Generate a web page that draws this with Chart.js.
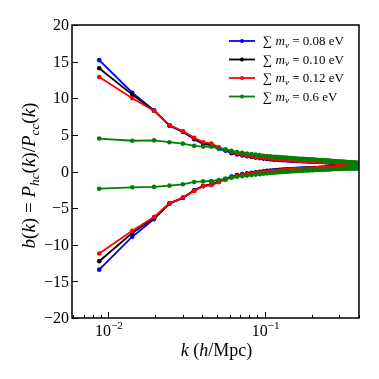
<!DOCTYPE html>
<html>
<head>
<meta charset="utf-8">
<script src="https://cdn.jsdelivr.net/npm/chart.js@4.4.1/dist/chart.umd.min.js"></script>
<style>
  html, body { margin: 0; padding: 0; background: #fff; }
  #wrap { width: 379px; height: 379px; }
</style>
</head>
<body>
<div id="wrap"><canvas id="biasChart" width="379" height="379"></canvas></div>
<script>
// k bins (h/Mpc)
const kValues = [
  0.0088, 0.0143, 0.0197, 0.0247, 0.0301, 0.0355, 0.0405, 0.0457, 0.0510, 0.0562,
  0.0615, 0.0667, 0.0720, 0.0772, 0.0825, 0.0877, 0.0930, 0.0982, 0.1035, 0.1087,
  0.1140, 0.1192, 0.1245, 0.1297, 0.1350, 0.1402, 0.1455, 0.1507, 0.1560, 0.1612,
  0.1665, 0.1717, 0.1770, 0.1822, 0.1875, 0.1927, 0.1980, 0.2032, 0.2085, 0.2137,
  0.2190, 0.2242, 0.2295, 0.2347, 0.2400, 0.2452, 0.2505, 0.2557, 0.2610, 0.2662,
  0.2715, 0.2767, 0.2820, 0.2872, 0.2925, 0.2977, 0.3030, 0.3082, 0.3135, 0.3187,
  0.3240, 0.3292, 0.3345, 0.3397, 0.3450, 0.3502, 0.3555, 0.3607, 0.3660, 0.3712,
  0.3765, 0.3817, 0.3870, 0.3922, 0.3975, 0.4027
];

// sum m_nu = 0.08 eV
const blueHi = [
  15.2, 10.75, 8.35, 6.25, 5.4, 4.4, 3.75, 3.6, 3.1, 2.85,
  2.5, 2.32, 2.2, 2.08, 1.98, 1.9, 1.83, 1.76, 1.7, 1.66,
  1.62, 1.6, 1.57, 1.55, 1.53, 1.51, 1.49, 1.48, 1.46, 1.45,
  1.43, 1.42, 1.41, 1.40, 1.39, 1.38, 1.37, 1.36, 1.35, 1.34,
  1.33, 1.32, 1.31, 1.30, 1.29, 1.28, 1.27, 1.26, 1.25, 1.24,
  1.23, 1.22, 1.21, 1.20, 1.19, 1.18, 1.17, 1.16, 1.15, 1.14,
  1.13, 1.12, 1.11, 1.10, 1.09, 1.08, 1.07, 1.06, 1.05, 1.04,
  1.03, 1.02, 1.01, 1.00, 0.99, 0.98
];
const blueLo = [
  -13.4, -8.9, -6.5, -4.4, -3.6, -2.55, -1.95, -1.75, -1.35, -1.0,
  -0.68, -0.48, -0.36, -0.26, -0.18, -0.1, -0.03, 0.03, 0.08, 0.12,
  0.16, 0.19, 0.22, 0.25, 0.27, 0.29, 0.31, 0.33, 0.35, 0.36,
  0.38, 0.39, 0.40, 0.41, 0.42, 0.43, 0.44, 0.45, 0.46, 0.47,
  0.48, 0.49, 0.50, 0.51, 0.51, 0.52, 0.53, 0.54, 0.55, 0.55,
  0.56, 0.57, 0.58, 0.58, 0.59, 0.60, 0.61, 0.61, 0.62, 0.63,
  0.64, 0.64, 0.65, 0.66, 0.66, 0.67, 0.68, 0.68, 0.69, 0.70,
  0.70, 0.71, 0.72, 0.72, 0.73, 0.74
];

// sum m_nu = 0.10 eV
const blackHi = [
  14.1, 10.5, 8.3, 6.3, 5.45, 4.5, 3.9, 3.7, 3.2, 2.92,
  2.58, 2.4, 2.27, 2.15, 2.05, 1.97, 1.9, 1.82, 1.76, 1.72,
  1.68, 1.65, 1.62, 1.6, 1.58, 1.56, 1.54, 1.52, 1.5, 1.48,
  1.46, 1.46, 1.45, 1.43, 1.42, 1.41, 1.40, 1.39, 1.37, 1.36,
  1.35, 1.34, 1.33, 1.32, 1.31, 1.30, 1.29, 1.28, 1.27, 1.26,
  1.25, 1.24, 1.23, 1.22, 1.21, 1.20, 1.19, 1.18, 1.17, 1.16,
  1.15, 1.14, 1.13, 1.12, 1.11, 1.10, 1.09, 1.08, 1.07, 1.06,
  1.05, 1.04, 1.03, 1.02, 1.01, 1.00
];
const blackLo = [
  -12.25, -8.4, -6.35, -4.35, -3.58, -2.6, -1.98, -1.8, -1.4, -1.06,
  -0.73, -0.53, -0.41, -0.31, -0.23, -0.16, -0.09, -0.03, 0.02, 0.07,
  0.11, 0.14, 0.17, 0.2, 0.23, 0.25, 0.27, 0.3, 0.32, 0.33,
  0.35, 0.35, 0.36, 0.37, 0.38, 0.39, 0.40, 0.41, 0.42, 0.43,
  0.44, 0.45, 0.46, 0.47, 0.48, 0.49, 0.50, 0.51, 0.51, 0.52,
  0.53, 0.54, 0.55, 0.56, 0.56, 0.57, 0.58, 0.59, 0.60, 0.60,
  0.61, 0.62, 0.63, 0.63, 0.64, 0.65, 0.66, 0.66, 0.67, 0.68,
  0.69, 0.69, 0.70, 0.71, 0.71, 0.72
];

// sum m_nu = 0.12 eV
const redHi = [
  12.9, 10.0, 8.3, 6.3, 5.5, 4.6, 4.0, 3.8, 3.3, 3.0,
  2.65, 2.45, 2.32, 2.2, 2.1, 2.02, 1.95, 1.87, 1.81, 1.76,
  1.72, 1.69, 1.66, 1.63, 1.61, 1.58, 1.56, 1.54, 1.52, 1.5,
  1.48, 1.47, 1.46, 1.44, 1.43, 1.42, 1.41, 1.40, 1.38, 1.37,
  1.36, 1.35, 1.34, 1.33, 1.32, 1.31, 1.30, 1.29, 1.28, 1.27,
  1.26, 1.25, 1.24, 1.23, 1.22, 1.21, 1.20, 1.19, 1.18, 1.17,
  1.16, 1.15, 1.14, 1.13, 1.12, 1.11, 1.10, 1.09, 1.08, 1.07,
  1.06, 1.05, 1.04, 1.03, 1.02, 1.01
];
const redLo = [
  -11.2, -8.1, -6.2, -4.35, -3.55, -2.65, -2.0, -1.85, -1.45, -1.12,
  -0.78, -0.58, -0.46, -0.36, -0.28, -0.21, -0.14, -0.08, -0.03, 0.02,
  0.06, 0.10, 0.13, 0.16, 0.19, 0.22, 0.24, 0.27, 0.29, 0.31,
  0.33, 0.34, 0.35, 0.36, 0.37, 0.38, 0.39, 0.40, 0.41, 0.42,
  0.43, 0.44, 0.45, 0.46, 0.47, 0.48, 0.49, 0.50, 0.50, 0.51,
  0.52, 0.53, 0.54, 0.55, 0.55, 0.56, 0.57, 0.58, 0.59, 0.59,
  0.60, 0.61, 0.62, 0.62, 0.63, 0.64, 0.65, 0.65, 0.66, 0.67,
  0.68, 0.68, 0.69, 0.70, 0.70, 0.71
];

// sum m_nu = 0.6 eV
const greenHi = [
  4.5, 4.2, 4.25, 4.0, 3.8, 3.5, 3.4, 3.38, 3.15, 3.0,
  2.82, 2.65, 2.56, 2.46, 2.38, 2.3, 2.23, 2.16, 2.1, 2.06,
  2.02, 1.99, 1.96, 1.93, 1.9, 1.87, 1.85, 1.82, 1.8, 1.77,
  1.75, 1.73, 1.72, 1.70, 1.68, 1.67, 1.65, 1.63, 1.62, 1.60,
  1.58, 1.57, 1.55, 1.54, 1.52, 1.51, 1.49, 1.48, 1.46, 1.45,
  1.43, 1.42, 1.41, 1.40, 1.38, 1.37, 1.36, 1.35, 1.34, 1.33,
  1.31, 1.30, 1.29, 1.28, 1.27, 1.26, 1.25, 1.24, 1.23, 1.22,
  1.21, 1.20, 1.19, 1.18, 1.17, 1.16
];
const greenLo = [
  -2.35, -2.16, -2.1, -1.93, -1.75, -1.43, -1.34, -1.3, -1.16, -1.0,
  -0.86, -0.73, -0.64, -0.56, -0.49, -0.42, -0.36, -0.3, -0.25, -0.21,
  -0.17, -0.14, -0.1, -0.07, -0.04, -0.02, 0.01, 0.03, 0.05, 0.08,
  0.1, 0.11, 0.12, 0.14, 0.15, 0.16, 0.17, 0.18, 0.2, 0.21,
  0.22, 0.23, 0.24, 0.25, 0.26, 0.27, 0.28, 0.29, 0.31, 0.32,
  0.33, 0.34, 0.34, 0.35, 0.35, 0.36, 0.36, 0.37, 0.37, 0.38,
  0.38, 0.39, 0.39, 0.40, 0.40, 0.41, 0.41, 0.42, 0.42, 0.42,
  0.43, 0.43, 0.43, 0.44, 0.44, 0.44
];

const massLabels = ["0.08", "0.10", "0.12", "0.6"];
const seriesColors = ["#0000ff", "#000000", "#ff0000", "#008000"];
const yTicks = [-20, -15, -10, -5, 0, 5, 10, 15, 20];
const xMajorTicks = [0.01, 0.1];
const xMinorTicks = [0.006, 0.007, 0.008, 0.009, 0.02, 0.03, 0.04, 0.05, 0.06, 0.07, 0.08, 0.09, 0.2, 0.3, 0.4];
const xMajorLabels = ["\u22122", "\u22121"];

const SERIF = '"Liberation Serif", "DejaVu Serif", serif';

function toPoints(ys) {
    return kValues.map(function (k, i) { return { x: k, y: ys[i] }; });
}

function makeSet(ys, color, order) {
    return {
        data: toPoints(ys),
        borderColor: color,
        backgroundColor: color,
        pointBackgroundColor: color,
        pointBorderWidth: 0,
        pointRadius: 2.3,
        borderWidth: 1.8,
        tension: 0,
        order: order,
    };
}

function fontFor(p, size) {
    let s = (p.sub || p.sup) ? size * 0.7 : size;
    return (p.it ? "italic " : "") + s + "px " + SERIF;
}

// draw text made of roman/italic/subscript pieces
function drawRich(ctx, parts, x, y, align, size) {
    let w = 0;
    parts.forEach(function (p) { ctx.font = fontFor(p, size); w += ctx.measureText(p.t).width; });
    let cx = x;
    if (align === "center") cx = x - w / 2;
    if (align === "right") cx = x - w;
    ctx.textAlign = "left";
    ctx.textBaseline = "alphabetic";
    parts.forEach(function (p) {
        ctx.font = fontFor(p, size);
        let dy = p.sub ? size * 0.22 : (p.sup ? -size * 0.42 : 0);
        ctx.fillText(p.t, cx, y + dy);
        cx += ctx.measureText(p.t).width;
    });
}

const axesPlugin = {
    id: "axesPlugin",
    afterDraw: function (chart) {
        const ctx = chart.ctx;
        const a = chart.chartArea;
        const xs = chart.scales.x;
        const ys = chart.scales.y;
        ctx.save();
        ctx.strokeStyle = "#000";
        ctx.fillStyle = "#000";

        // inward ticks
        ctx.lineWidth = 1;
        ctx.beginPath();
        yTicks.forEach(function (v) {
            let py = Math.round(ys.getPixelForValue(v)) + 0.5;
            ctx.moveTo(a.left, py);
            ctx.lineTo(a.left + 6, py);
        });
        xMajorTicks.forEach(function (v) {
            let px = Math.round(xs.getPixelForValue(v)) + 0.5;
            ctx.moveTo(px, a.bottom);
            ctx.lineTo(px, a.bottom - 6);
        });
        xMinorTicks.forEach(function (v) {
            let px = Math.round(xs.getPixelForValue(v)) + 0.5;
            ctx.moveTo(px, a.bottom);
            ctx.lineTo(px, a.bottom - 3);
        });
        ctx.stroke();

        // frame
        ctx.lineWidth = 1.5;
        ctx.strokeRect(a.left, a.top, a.right - a.left, a.bottom - a.top);

        // y tick labels
        ctx.font = "16px " + SERIF;
        ctx.textAlign = "right";
        ctx.textBaseline = "middle";
        yTicks.forEach(function (v) {
            let txt = v < 0 ? "\u2212" + Math.abs(v) : String(v);
            ctx.fillText(txt, a.left - 3, ys.getPixelForValue(v) + 1);
        });

        // x tick labels 10^n
        xMajorTicks.forEach(function (v, i) {
            drawRich(ctx, [{ t: "10" }, { t: xMajorLabels[i], sup: true }],
                xs.getPixelForValue(v) + 1, a.bottom + 18, "center", 16);
        });

        // axis titles
        drawRich(ctx, [{ t: "k", it: true }, { t: " (" }, { t: "h", it: true }, { t: "/Mpc)" }],
            (a.left + a.right) / 2 + 1, a.bottom + 38, "center", 18);

        ctx.save();
        ctx.translate(35, (a.top + a.bottom) / 2 + 4);
        ctx.rotate(-Math.PI / 2);
        drawRich(ctx, [
            { t: "b", it: true }, { t: "(" }, { t: "k", it: true }, { t: ") = " },
            { t: "P", it: true }, { t: "hc", it: true, sub: true }, { t: "(" }, { t: "k", it: true }, { t: ")/" },
            { t: "P", it: true }, { t: "cc", it: true, sub: true }, { t: "(" }, { t: "k", it: true }, { t: ")" }
        ], 0, 0, "center", 19);
        ctx.restore();

        // legend
        massLabels.forEach(function (m, i) {
            let ly = 41 + i * 18.5;
            ctx.strokeStyle = seriesColors[i];
            ctx.fillStyle = seriesColors[i];
            ctx.lineWidth = 1.8;
            ctx.beginPath();
            ctx.moveTo(229, ly);
            ctx.lineTo(255, ly);
            ctx.stroke();
            ctx.beginPath();
            ctx.arc(242, ly, 2, 0, Math.PI * 2);
            ctx.fill();
            ctx.fillStyle = "#000";
            drawRich(ctx, [
                { t: "\u2211 " }, { t: "m", it: true }, { t: "\u03bd", it: true, sub: true },
                { t: " = " + m + " eV" }
            ], 263, ly + 4, "left", 13);
        });

        ctx.restore();
    }
};

document.addEventListener("DOMContentLoaded", function () {
    const ctx = document.getElementById("biasChart").getContext("2d");
    new Chart(ctx, {
        type: "line",
        data: {
            datasets: [
                makeSet(blueHi, seriesColors[0], 3),
                makeSet(blueLo, seriesColors[0], 3),
                makeSet(blackHi, seriesColors[1], 2),
                makeSet(blackLo, seriesColors[1], 2),
                makeSet(redHi, seriesColors[2], 1),
                makeSet(redLo, seriesColors[2], 1),
                makeSet(greenHi, seriesColors[3], 0),
                makeSet(greenLo, seriesColors[3], 0),
            ],
        },
        options: {
            responsive: false,
            animation: false,
            devicePixelRatio: 1,
            layout: { padding: { left: 0, top: 25, right: 20, bottom: 0 } },
            plugins: {
                legend: { display: false },
                tooltip: { enabled: false },
            },
            scales: {
                x: {
                    type: "logarithmic",
                    min: 0.0059,
                    max: 0.4,
                    grid: { display: false },
                    border: { display: false },
                    ticks: { display: false },
                    afterFit: function (s) { s.height = 61; },
                },
                y: {
                    type: "linear",
                    min: -20,
                    max: 20,
                    grid: { display: false },
                    border: { display: false },
                    ticks: { display: false, stepSize: 5 },
                    afterFit: function (s) { s.width = 72; },
                },
            },
        },
        plugins: [axesPlugin],
    });
});
</script>
</body>
</html>
